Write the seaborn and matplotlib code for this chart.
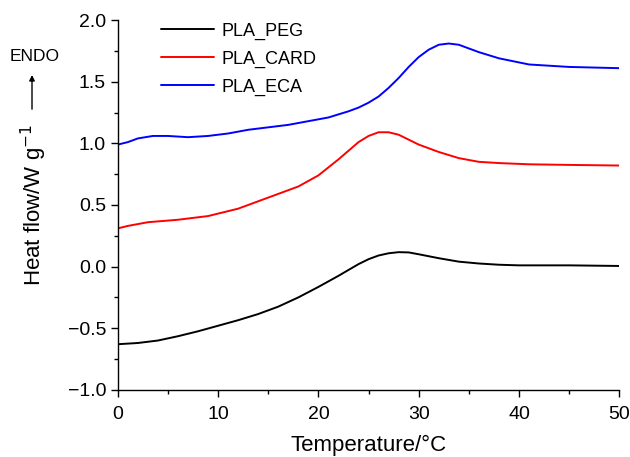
import pandas as pd
import matplotlib
matplotlib.use("Agg")
import matplotlib.pyplot as plt
from matplotlib.ticker import MultipleLocator
import seaborn as sns

# Values
temp_peg = [0, 2, 4, 6, 8, 10, 12, 14, 16, 18, 20, 22, 24, 25, 26, 27, 28, 29, 30, 32, 34, 36, 38, 40, 45, 50]
flow_peg = [-0.63, -0.62, -0.60, -0.565, -0.525, -0.48, -0.435, -0.385, -0.325, -0.25, -0.165, -0.075, 0.02, 0.06, 0.09, 0.108, 0.117, 0.115, 0.10, 0.068, 0.04, 0.025, 0.015, 0.01, 0.01, 0.005]

temp_card = [0, 1, 3, 6, 9, 12, 14, 16, 18, 20, 22, 24, 25, 26, 27, 28, 30, 32, 34, 36, 38, 41, 45, 50]
flow_card = [0.31, 0.33, 0.36, 0.38, 0.41, 0.47, 0.53, 0.59, 0.65, 0.74, 0.87, 1.01, 1.06, 1.09, 1.09, 1.07, 0.99, 0.93, 0.88, 0.85, 0.84, 0.83, 0.825, 0.82]

temp_eca = [0, 1, 2, 3.5, 5, 7, 9, 11, 13, 15, 17, 19, 21, 23, 24, 25, 26, 27, 28, 29, 30, 31, 32, 33, 34, 35, 36, 38, 41, 45, 50]
flow_eca = [0.99, 1.01, 1.04, 1.06, 1.06, 1.05, 1.06, 1.08, 1.11, 1.13, 1.15, 1.18, 1.21, 1.26, 1.29, 1.33, 1.38, 1.45, 1.53, 1.62, 1.70, 1.76, 1.80, 1.81, 1.80, 1.77, 1.74, 1.69, 1.64, 1.62, 1.61]

names = ["PLA_PEG", "PLA_CARD", "PLA_ECA"]
colors = ["black", "red", "blue"]

df = pd.concat([
    pd.DataFrame({"T": temp_peg, "H": flow_peg, "sample": names[0]}),
    pd.DataFrame({"T": temp_card, "H": flow_card, "sample": names[1]}),
    pd.DataFrame({"T": temp_eca, "H": flow_eca, "sample": names[2]}),
])

sns.set_style("ticks")
plt.rcParams['font.family'] = ['Liberation Sans', 'DejaVu Sans']
plt.rcParams['text.color'] = 'black'
plt.rcParams['axes.labelcolor'] = 'black'
plt.rcParams['xtick.color'] = 'black'
plt.rcParams['ytick.color'] = 'black'
plt.rcParams['axes.edgecolor'] = 'black'

fig = plt.figure(figsize=(6.3, 4.57), dpi=100)
ax = fig.add_axes([0.187, 0.147, 0.796, 0.809])

sns.lineplot(data=df, x="T", y="H", hue="sample", hue_order=names,
             palette=colors, linewidth=1.4, ax=ax, sort=False)

ax.set_xlim(0, 50)
ax.set_ylim(-1.0, 2.0)
ax.xaxis.set_major_locator(MultipleLocator(10))
ax.xaxis.set_minor_locator(MultipleLocator(5))
ax.yaxis.set_major_locator(MultipleLocator(0.5))
ax.yaxis.set_minor_locator(MultipleLocator(0.25))
ax.tick_params(which='major', direction='out', length=5, width=1, labelsize=14)
ax.tick_params(axis='x', which='major', pad=7)
ax.tick_params(which='minor', direction='out', length=3, width=1)
sns.despine(ax=ax)
for s in ['left', 'bottom']:
    ax.spines[s].set_linewidth(1)

ax.set_xlabel("Temperature/°C", fontsize=16, labelpad=8)
ax.set_ylabel("Heat flow/W g$^{-1}$", fontsize=16, labelpad=13)

ax.legend(title=None, frameon=False, fontsize=13, loc='upper left',
          bbox_to_anchor=(0.054, 1.037), handlelength=2.9, handletextpad=0.45,
          labelspacing=0.6)

fig.text(0.0556, 0.877, "ENDO", fontsize=12.5, ha='center', va='center')
fig.add_artist(matplotlib.patches.FancyArrowPatch(
    (0.0508, 0.755), (0.0508, 0.842), transform=fig.transFigure,
    arrowstyle='-|>', mutation_scale=8, color='black', linewidth=1))

fig.savefig("out.png", dpi=100)
